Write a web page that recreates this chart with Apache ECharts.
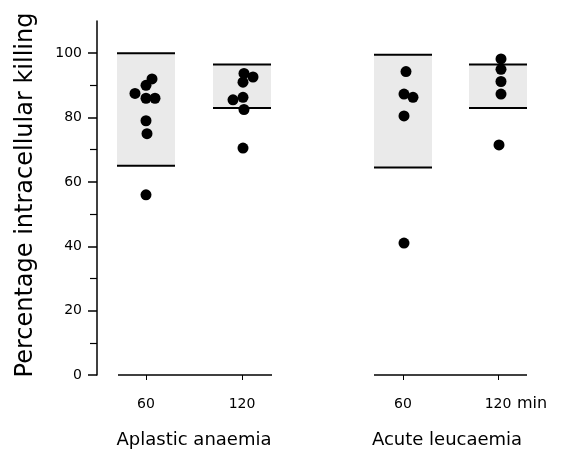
<!DOCTYPE html>
<html>
<head>
<meta charset="utf-8">
<script src="https://cdn.jsdelivr.net/npm/echarts@6/dist/echarts.min.js"></script>
<style>
  html, body { margin: 0; padding: 0; background: #fff; }
  #main { width: 563px; height: 453px; }
</style>
</head>
<body>
<div id="main"></div>
<script>
// time labels and group names
var timeLabels = ['60', '120', '60', '120'];
var groupNames = ['Aplastic anaemia', 'Acute leucaemia'];

// where each time column sits on the (hidden) x scale
var columnPos = [4.9, 14.5, 30.6, 40.1];

// normal range (shaded band) per column
var bandLow = [65, 83, 64.5, 83];
var bandHigh = [100, 96.5, 99.5, 96.5];

// patient values per column
var aplastic60 = [92, 90, 87.5, 86, 86, 79, 75, 56];
var aplastic120 = [93.7, 92.6, 91, 85.5, 86.3, 82.5, 70.5];
var acute60 = [94.3, 87.3, 86.3, 80.5, 41];
var acute120 = [98.2, 95, 91.2, 87.3, 71.5];

// small horizontal scatter of the dots, as drawn
var aplastic60Jit = [0.6, 0, -1.1, 0, 0.9, 0, 0.1, 0];
var aplastic120Jit = [0.2, 1.1, 0.1, -0.9, 0.1, 0.2, 0.1];
var acute60Jit = [0.3, 0.1, 1.0, 0.1, 0.1];
var acute120Jit = [0.3, 0.3, 0.3, 0.3, 0.1];

var columns = [aplastic60, aplastic120, acute60, acute120];
var jitters = [aplastic60Jit, aplastic120Jit, acute60Jit, acute120Jit];

var dots = [];
columns.forEach(function (vals, c) {
    vals.forEach(function (v, i) {
        dots.push([columnPos[c] + jitters[c][i], v]);
    });
});

var bands = columnPos.map(function (p, i) {
    return [p, bandLow[i], bandHigh[i]];
});

// baseline segments under each group
var baselines = [
    [columnPos[0] - 2.8, columnPos[1] + 3.0],
    [columnPos[2] - 2.9, columnPos[3] + 2.9]
];

var myChart = echarts.init(document.getElementById('main'));
var font = 'DejaVu Sans';

myChart.setOption({
    animation: false,
    grid: { left: 97, right: 26, top: 21, bottom: 78 },
    xAxis: {
        type: 'value',
        min: 0,
        max: 44,
        axisLine: { show: false },
        splitLine: { show: false },
        axisTick: {
            customValues: columnPos,
            length: 5,
            lineStyle: { color: '#000', width: 1 }
        },
        axisLabel: {
            customValues: columnPos,
            margin: 22,
            color: '#000',
            fontFamily: font,
            fontSize: 14,
            formatter: function (v) {
                var i = columnPos.indexOf(v);
                return i >= 0 ? timeLabels[i] : '';
            }
        }
    },
    yAxis: [
        {
            type: 'value',
            min: 0,
            max: 110,
            name: 'Percentage intracellular killing',
            nameLocation: 'middle',
            nameGap: 59,
            nameTextStyle: {
                fontFamily: font,
                fontSize: 24,
                color: '#000',
                padding: [0, 0, 0, 6]
            },
            splitLine: { show: false },
            axisLine: { show: true, lineStyle: { color: '#000', width: 1.5 } },
            axisTick: {
                customValues: [0, 20, 40, 60, 80, 100],
                length: 9,
                lineStyle: { color: '#000', width: 1.5 }
            },
            axisLabel: {
                customValues: [0, 20, 40, 60, 80, 100],
                margin: 15,
                color: '#000',
                fontFamily: font,
                fontSize: 14
            }
        },
        {
            type: 'value',
            min: 0,
            max: 110,
            position: 'left',
            splitLine: { show: false },
            axisLine: { show: false },
            axisLabel: { show: false },
            axisTick: {
                customValues: [10, 30, 50, 70, 90],
                length: 7,
                lineStyle: { color: '#000', width: 1.2 }
            }
        }
    ],
    graphic: [
        {
            type: 'text',
            left: 517,
            top: 396,
            style: { text: 'min', font: '16px "DejaVu Sans"', fill: '#000' }
        },
        {
            type: 'text',
            x: 194,
            y: 440,
            style: {
                text: groupNames[0], font: '18px "DejaVu Sans"', fill: '#000',
                align: 'center', verticalAlign: 'middle'
            }
        },
        {
            type: 'text',
            x: 447,
            y: 440,
            style: {
                text: groupNames[1], font: '18px "DejaVu Sans"', fill: '#000',
                align: 'center', verticalAlign: 'middle'
            }
        }
    ],
    series: [
        {
            type: 'custom',
            z: 1,
            data: bands,
            renderItem: function (params, api) {
                var c = api.value(0), lo = api.value(1), hi = api.value(2);
                var half = 2.9;
                var tl = api.coord([c - half, hi]);
                var br = api.coord([c + half, lo]);
                return {
                    type: 'group',
                    children: [
                        {
                            type: 'rect',
                            shape: { x: tl[0], y: tl[1], width: br[0] - tl[0], height: br[1] - tl[1] },
                            style: { fill: '#eaeaea' }
                        },
                        {
                            type: 'line',
                            shape: { x1: tl[0], y1: tl[1], x2: br[0], y2: tl[1] },
                            style: { stroke: '#000', lineWidth: 2 }
                        },
                        {
                            type: 'line',
                            shape: { x1: tl[0], y1: br[1], x2: br[0], y2: br[1] },
                            style: { stroke: '#000', lineWidth: 2 }
                        }
                    ]
                };
            }
        },
        {
            type: 'custom',
            z: 1,
            data: baselines,
            renderItem: function (params, api) {
                var a = api.coord([api.value(0), 0]);
                var b = api.coord([api.value(1), 0]);
                return {
                    type: 'line',
                    shape: { x1: a[0], y1: a[1], x2: b[0], y2: b[1] },
                    style: { stroke: '#000', lineWidth: 1.3 }
                };
            }
        },
        {
            type: 'scatter',
            z: 3,
            data: dots,
            symbolSize: 11,
            itemStyle: { color: '#000', opacity: 1 }
        }
    ]
});
</script>
</body>
</html>
